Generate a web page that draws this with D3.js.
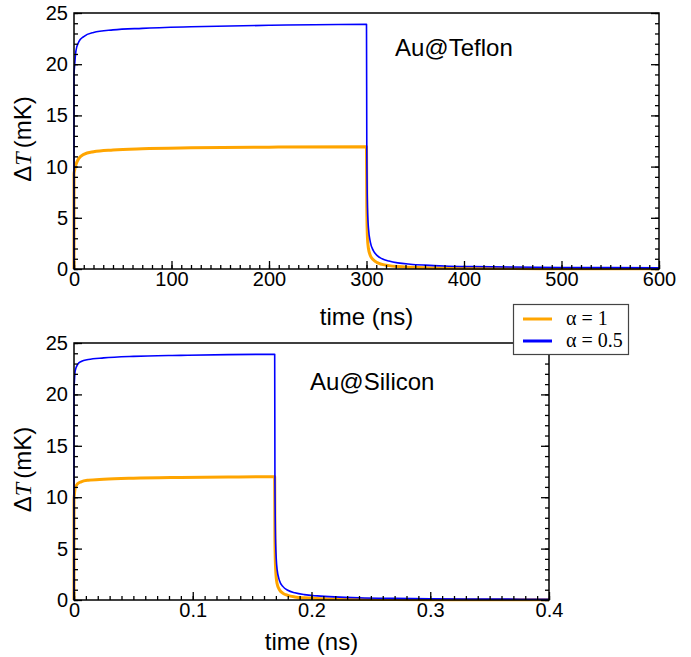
<!DOCTYPE html>
<html>
<head>
<meta charset="utf-8">
<script src="https://cdn.jsdelivr.net/npm/d3@7"></script>
<style>
  body { margin: 0; background: #fff; }
</style>
</head>
<body>
<svg id="chart" width="691" height="657" font-family="Liberation Sans, Arial, sans-serif"></svg>
<script>

// Au@Teflon, time in ns
var tefTime   = [0, 0.01, 0.5, 2, 5, 10, 20, 40, 70, 120, 200, 300, 300.3, 301, 302, 304, 307, 311, 316, 323, 332, 345, 360, 380, 410, 450, 500, 550, 600];
var tefAlpha1 = [0, 9.3, 9.6, 10.2, 10.8, 11.2, 11.45, 11.62, 11.74, 11.83, 11.9, 11.95, 6.0, 3.0, 2.0, 1.3, 0.9, 0.62, 0.45, 0.33, 0.24, 0.17, 0.12, 0.09, 0.06, 0.04, 0.03, 0.02, 0.015];
var tefAlpha05 = [0, 19.0, 19.7, 21.3, 22.2, 22.7, 23.1, 23.35, 23.5, 23.65, 23.8, 23.9, 12, 6, 4, 2.6, 1.8, 1.3, 1.0, 0.78, 0.6, 0.47, 0.38, 0.3, 0.24, 0.19, 0.15, 0.13, 0.11];

// Au@Silicon, time in ns
var silTime   = [0, 0.00001, 0.0003, 0.001, 0.003, 0.006, 0.012, 0.025, 0.05, 0.09, 0.13, 0.169, 0.1692, 0.1698, 0.171, 0.173, 0.176, 0.18, 0.186, 0.194, 0.205, 0.22, 0.24, 0.27, 0.3, 0.35, 0.4];
var silAlpha1 = [0, 9.8, 10.2, 10.9, 11.3, 11.5, 11.65, 11.75, 11.85, 11.92, 11.96, 12.0, 6, 3, 1.6, 1.0, 0.65, 0.45, 0.3, 0.21, 0.15, 0.1, 0.07, 0.05, 0.035, 0.025, 0.02];
var silAlpha05 = [0, 20.5, 21.2, 22.3, 22.9, 23.2, 23.4, 23.55, 23.7, 23.8, 23.87, 23.9, 12, 5.5, 3.0, 1.9, 1.3, 0.95, 0.7, 0.52, 0.4, 0.3, 0.22, 0.16, 0.12, 0.09, 0.07];

var seriesNames = ["α = 1", "α = 0.5"];
var seriesColors = ["#ffa500", "#0000ff"];
var seriesWidths = [3, 1.6];

var yMajor = [0, 5, 10, 15, 20, 25];

var svg = d3.select("#chart");

function panel(opt) {
  var x = d3.scaleLinear().domain(opt.xDomain).range([opt.left, opt.left + opt.width]);
  var y = d3.scaleLinear().domain([0, 25]).range([opt.top + opt.height, opt.top]);
  var g = svg.append("g");

  // curves
  var line = d3.line()
    .x(function(d){ return x(d[0]); })
    .y(function(d){ return y(d[1]); })
    .curve(d3.curveMonotoneX);

  opt.series.forEach(function(vals, k){
    var pts = opt.time.map(function(t, i){ return [t, vals[i]]; });
    g.append("path")
      .attr("d", line(pts))
      .attr("fill", "none")
      .attr("stroke", seriesColors[k])
      .attr("stroke-width", seriesWidths[k])
      .attr("stroke-linejoin", "round");
  });

  // frame
  g.append("rect")
    .attr("x", opt.left).attr("y", opt.top)
    .attr("width", opt.width).attr("height", opt.height)
    .attr("fill", "none").attr("stroke", "#000").attr("stroke-width", 1.5);

  var bottomY = opt.top + opt.height;

  // x minor ticks
  g.append("g")
    .attr("transform", "translate(0," + bottomY + ")")
    .call(d3.axisBottom(x).tickValues(opt.xMinor).tickSize(-4).tickFormat(""))
    .call(function(s){ s.select(".domain").remove(); });
  // x major ticks
  g.append("g")
    .attr("transform", "translate(0," + bottomY + ")")
    .call(d3.axisBottom(x).tickValues(opt.xMajor).tickSize(-8).tickPadding(3)
      .tickFormat(function(d){ return opt.xFormat(d); }))
    .call(function(s){
      s.select(".domain").remove();
      s.selectAll("text").attr("font-size", 20).attr("fill", "#000")
        .attr("font-family", "Liberation Sans, Arial, sans-serif");
    });

  var yMinor = d3.range(0, 26, 1);
  // y left
  g.append("g")
    .attr("transform", "translate(" + opt.left + ",0)")
    .call(d3.axisLeft(y).tickValues(yMinor).tickSize(-4).tickFormat(""))
    .call(function(s){ s.select(".domain").remove(); });
  g.append("g")
    .attr("transform", "translate(" + opt.left + ",0)")
    .call(d3.axisLeft(y).tickValues(yMajor).tickSize(-8).tickPadding(6))
    .call(function(s){
      s.select(".domain").remove();
      s.selectAll("text").attr("font-size", 20).attr("fill", "#000")
        .attr("font-family", "Liberation Sans, Arial, sans-serif");
    });
  // y right
  g.append("g")
    .attr("transform", "translate(" + (opt.left + opt.width) + ",0)")
    .call(d3.axisRight(y).tickValues(yMinor).tickSize(-4).tickFormat(""))
    .call(function(s){ s.select(".domain").remove(); });
  g.append("g")
    .attr("transform", "translate(" + (opt.left + opt.width) + ",0)")
    .call(d3.axisRight(y).tickValues(yMajor).tickSize(-8).tickFormat(""))
    .call(function(s){ s.select(".domain").remove(); });

  g.selectAll(".tick line").attr("stroke", "#000").attr("stroke-width", 1.3);

  // y label
  var yl = g.append("text")
    .attr("transform", "translate(31," + (opt.top + opt.height / 2 - 2) + ") rotate(-90)")
    .attr("text-anchor", "middle")
    .attr("font-size", 24);
  yl.append("tspan").text("Δ");
  yl.append("tspan").attr("font-style", "italic").attr("font-family", "Liberation Serif, serif").text("T");
  yl.append("tspan").attr("dx", 4).text("(mK)");

  // x label
  g.append("text")
    .attr("x", opt.left + opt.width / 2)
    .attr("y", bottomY + opt.labelGap)
    .attr("text-anchor", "middle")
    .attr("font-size", 24)
    .text("time (ns)");

  // annotation
  g.append("text")
    .attr("x", opt.noteX).attr("y", opt.noteY)
    .attr("font-size", 24)
    .text(opt.note);
}

panel({
  left: 74, top: 13, width: 585, height: 256,
  xDomain: [0, 600],
  xMajor: d3.range(0, 601, 100),
  xMinor: d3.range(0, 601, 10),
  xFormat: function(d){ return d; },
  time: tefTime,
  series: [tefAlpha1, tefAlpha05],
  labelGap: 56,
  note: "Au@Teflon", noteX: 395, noteY: 56
});

panel({
  left: 74, top: 343, width: 475, height: 257,
  xDomain: [0, 0.4],
  xMajor: [0, 0.1, 0.2, 0.3, 0.4],
  xMinor: d3.range(0, 41, 1).map(function(i){ return i / 100; }),
  xFormat: function(d){ return d === 0 ? "0" : d3.format(".1f")(d); },
  time: silTime,
  series: [silAlpha1, silAlpha05],
  labelGap: 50,
  note: "Au@Silicon", noteX: 310, noteY: 390
});

// legend
var lg = svg.append("g");
lg.append("rect")
  .attr("x", 513.5).attr("y", 304.5).attr("width", 115).attr("height", 50)
  .attr("fill", "#fff").attr("stroke", "#444").attr("stroke-width", 1.2);
seriesNames.forEach(function(name, k){
  var yy = 319 + k * 22;
  lg.append("line")
    .attr("x1", 523).attr("x2", 552).attr("y1", yy).attr("y2", yy)
    .attr("stroke", seriesColors[k]).attr("stroke-width", 3);
  lg.append("text")
    .attr("x", 566).attr("y", yy + 6)
    .attr("font-family", "Liberation Serif, 'Times New Roman', serif")
    .attr("font-size", 20)
    .text(name);
});
</script>
</body>
</html>
